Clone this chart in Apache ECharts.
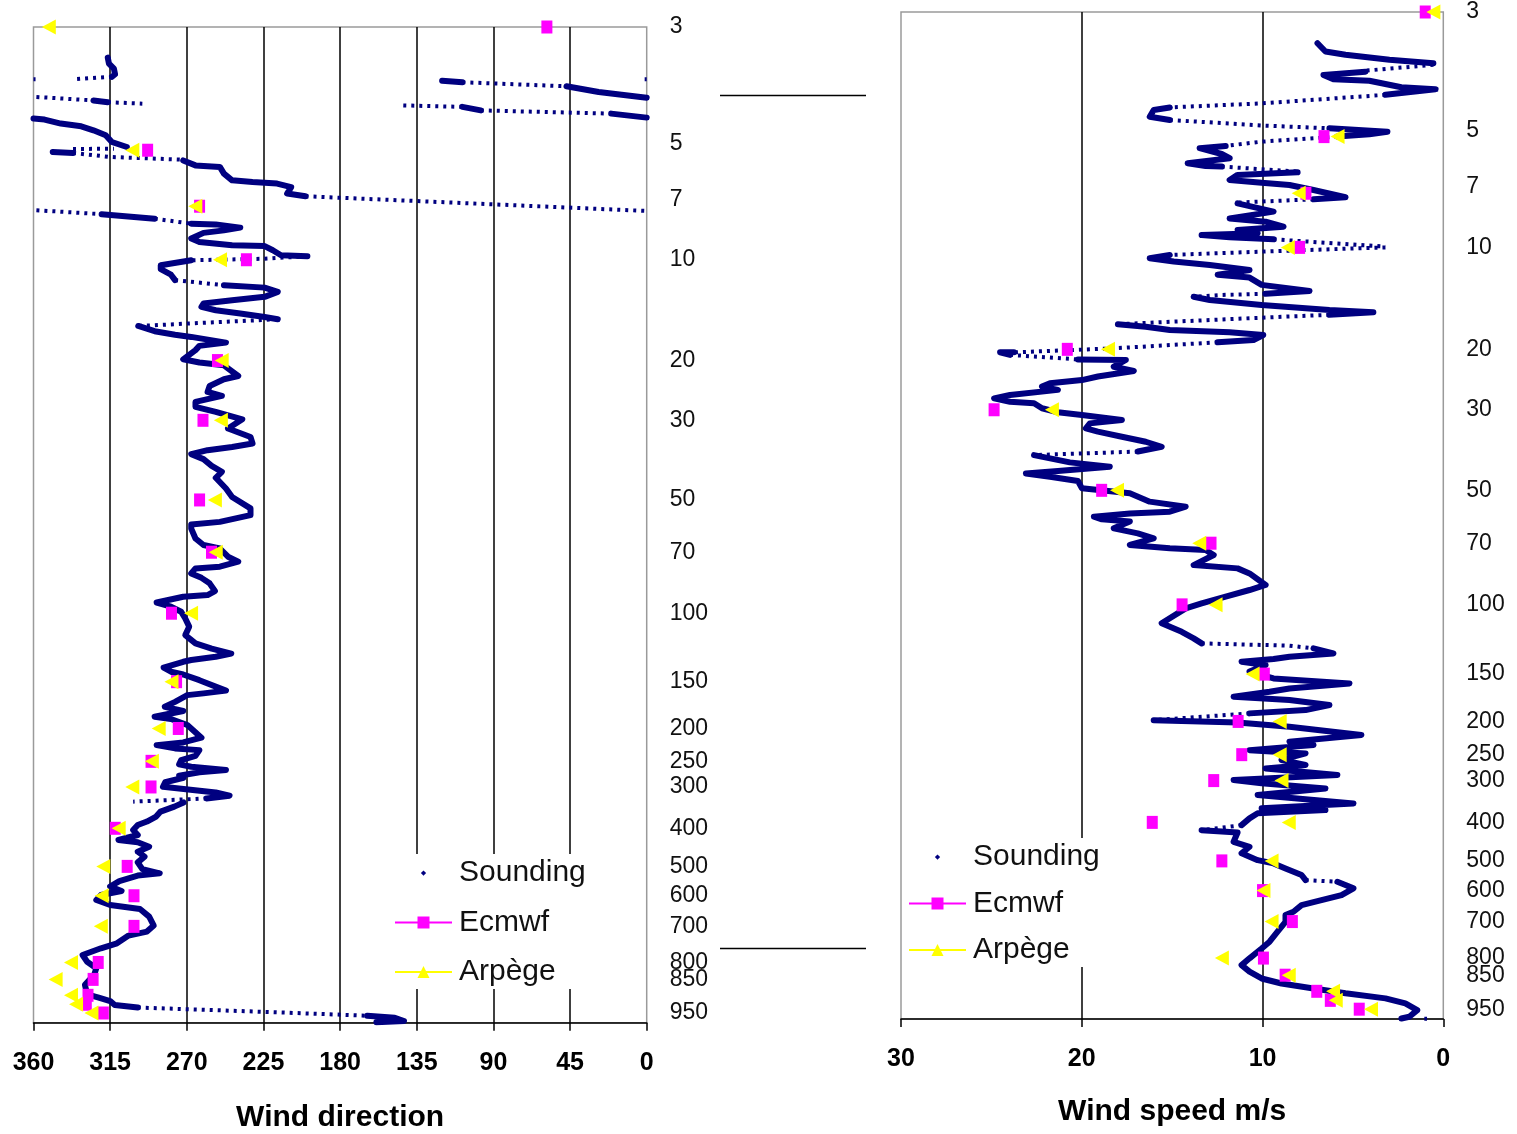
<!DOCTYPE html>
<html>
<head>
<meta charset="utf-8">
<script src="https://cdn.jsdelivr.net/npm/echarts@6/dist/echarts.min.js"></script>
<style>
  html, body { margin: 0; padding: 0; background: #fff; }
  #chart { width: 1517px; height: 1134px; }
</style>
</head>
<body>
<div id="chart"></div>
<script>
// pressure labels (hPa) and the height (km) they sit at on the axis
const tickPressure = [3, 5, 7, 10, 20, 30, 50, 70, 100, 150, 200, 250, 300, 400, 500, 600, 700, 800, 850, 950];
const tickHeight = [40, 35.3, 33.05, 30.65, 26.6, 24.2, 21, 18.9, 16.45, 13.7, 11.82, 10.5, 9.47, 7.81, 6.28, 5.1, 3.87, 2.42, 1.74, 0.39];

// model levels
const modelPressure = [3, 5, 7, 10, 20, 30, 50, 70, 100, 150, 200, 250, 300, 400, 500, 600, 700, 800, 850, 900, 925, 950];
const modelHeight = [40, 35.05, 32.8, 30.65, 26.6, 24.2, 21, 18.9, 16.45, 13.7, 11.82, 10.5, 9.47, 7.81, 6.28, 5.1, 3.87, 2.42, 1.74, 1.1, 0.74, 0.39];

const ecmwfDir = [58.6, 293, 262.5, 235, 252, 260.5, 262.5, 255.5, 279, 276, 275, 291, 291, 312, 305, 301, 301, 322, 325, 328, 329, 319];
const arpegeDir = [351, 302, 265, 250.5, 249.5, 250, 253.5, 253, 267.5, 279, 286.5, 290.5, 302, 310, 319, 320, 320.5, 338, 347, 338, 335, 326];
const ecmwfSpeed = [1.0, 6.6, 7.6, 7.95, 20.8, 24.85, 18.9, 12.85, 14.45, 9.9, 11.35, 11.15, 12.7, 16.1, 12.25, 10.0, 8.35, 9.95, 8.75, 7.0, 6.25, 4.65];
const arpegeSpeed = [0.55, 5.85, 8.0, 8.6, 18.55, 21.65, 18.05, 13.5, 12.6, 10.55, 9.05, 9.05, 8.95, 8.55, 9.5, 9.95, 9.5, 12.25, 8.55, 6.1, 5.95, 4.0];

// sounding, [direction, height km]; dense runs and sparse (dotted) runs
const soundingDirSolid = [
  [316.4,38.77],[315.7,38.53],[312.8,38.33],[312.1,38.1],[313.9,38.0], null,
  [120.1,37.84],[108.2,37.78], null,
  [47.1,37.62],[28.2,37.39],[0,37.16], null,
  [324.8,37.05],[316.4,36.98], null,
  [108.2,36.79],[97.4,36.65], null,
  [20.8,36.52],[0,36.36], null,
  [360,36.32],[353.5,36.28],[344,36.12],[332,36.01],[324.8,35.85],[317.6,35.65],[314,35.38],[305.2,35.18], null,
  [348.7,34.98],[336.8,34.94], null,
  [272.1,34.64],[264.9,34.44],[250.6,34.38],[248.2,34.11],[243.4,33.84],[231.4,33.77],[217,33.71],[208.7,33.57],[211.1,33.31],[200.3,33.2], null,
  [320,32.48],[288.9,32.3], null,
  [267.4,32.1],[253,32.07],[238.6,31.94],[248.2,31.83],[260.2,31.73],[267.4,31.5],[262.6,31.36],[243.4,31.23],[224.3,31.2],[219.5,31.03],[214.7,30.83],[199.2,30.79], null,
  [267.4,30.63],[285.3,30.43],[285.3,30.27],[279.3,30.05],[276.9,29.83], null,
  [248.2,29.63],[224.3,29.53],[216.6,29.36],[224.3,29.16],[243.4,29.02],[260.2,28.89],[261.4,28.76],[253,28.62],[238.6,28.49],[224.3,28.35],[216.6,28.26], null,
  [298.5,27.99],[288.9,27.78],[276.9,27.64],[267.4,27.55],[247,27.32],[262.6,27.19],[264.9,27.02],[272.1,26.65],[262.6,26.52],[248.2,26.41],
  [239.8,25.98],[248.2,25.85],[256.6,25.58],[257.8,25.34],[249.4,25.18],[264.9,24.94],[264.9,24.74],[253,24.54],[237.4,24.24],[245.8,23.87],
  [232.6,23.53],[231.4,23.27],[243.4,23.13],[257.8,23.0],[267.4,22.84],[260.2,22.64],[255.4,22.37],[249.4,22.13],[253,21.89],[247,21.46],
  [243.4,21.12],[232.6,20.66],[232.6,20.39],[250.6,20.12],[267.4,20.01],[267.4,19.85],[264.9,19.45],[260.2,19.19],[250.6,19.05],[245.8,18.72],
  [239.8,18.52],[250.6,18.32],[264.9,18.25],[267.4,18.05],[261.4,17.87],[256.6,17.65],[253.5,17.34],[257.8,17.18],[272.1,17.11],[287.7,16.88],
  [279.3,16.71],[273.3,16.51],[270.9,16.24],[268.6,15.91],[270.9,15.57],[264.9,15.24],[255.4,15.03],[243.9,14.83],[253,14.7],[267.4,14.57],
  [272.1,14.5],[283.6,14.26],[279.3,14.1],[272.1,13.99],[262.6,13.76],[247,13.34],[260.2,13.23],[269.7,13.16],[276.9,12.89],[282.9,12.69],
  [272.1,12.52],[288.9,12.29],[279.3,12.2],[269.7,11.96],[261.4,11.45],[272.1,11.26],[287.7,11.15],[276.9,11.02],[262.6,10.95],[264.9,10.72],
  [273.3,10.55],[274.5,10.38],[267.4,10.28],[247,10.15],[262.6,10.06],[274.5,9.92],[271.9,9.84],[282.7,9.66],[284,9.48],[266.5,9.35],
  [253,9.25],[244.9,9.12],[258.4,9.01], null,
  [271.9,8.85],[277.3,8.68],[285.4,8.48],[288,8.28],[293.4,8.08],[298.8,7.94],[301.5,7.74],[298.8,7.54],[310.1,7.34],[298.8,7.25],
  [292.1,7.07],[298.8,6.87],[294.8,6.67],[298.8,6.44],[296.1,6.17],[285.9,6.0],[298.8,5.91],[309.6,5.69],[315,5.47],[308.3,5.29],
  [320.4,5.13],[323.1,4.93],[315,4.73],[297.5,4.57],[292.1,4.26],[289.4,3.9],[293.4,3.66],[304.2,3.5],[311,3.19],[320.4,2.99],
  [331.2,2.72],[328.5,2.45],[323.1,2.19],[324.4,1.92],[329.8,1.52],[328.5,1.14],[321.7,1.01],[315,0.87],[312.3,0.71],[298.8,0.61], null,
  [164.1,0.28],[147.9,0.2],[142.5,0.07],[158.7,0.02]
];
const soundingDirDotted = [
  [313.9,38.0],[336.8,37.9], null,
  [358.8,37.9],[360,37.9], null,
  [0,37.9],[1.2,37.9], null,
  [108.2,37.78],[47.1,37.62], null,
  [358.3,37.19],[324.8,37.05], null,
  [316.4,36.98],[296.1,36.92], null,
  [142.9,36.85],[108.2,36.79], null,
  [97.4,36.65],[20.8,36.52], null,
  [336.8,35.1],[312.8,35.11], null,
  [336.8,34.94],[315.2,34.78],[272.1,34.67], null,
  [200.3,33.2],[0,32.61], null,
  [358.3,32.64],[320,32.48], null,
  [288.9,32.3],[267.4,32.1], null,
  [199.2,30.79],[225.5,30.69],[267.4,30.63], null,
  [276.9,29.83],[248.2,29.63], null,
  [216.6,28.26],[298.5,27.99], null,
  [258.4,9.01],[301.5,8.88], null,
  [298.8,0.61],[218,0.42],[164.1,0.28]
];

// sounding, [speed m/s, height km]
const soundingSpeedSolid = [
  [6.96,38.76],[6.52,38.43],[5.41,38.3],[2.98,38.1],[0.55,37.96], null,
  [4.31,37.63],[6.63,37.5],[6.08,37.33],[4.09,37.27],[2.32,37.01],[0.44,36.93],[3.2,36.71], null,
  [15.13,36.21],[16.02,36.11],[16.24,35.84],[15.13,35.71], null,
  [6.3,35.38],[3.09,35.24],[4.09,35.14],[5.86,35.05], null,
  [12.04,34.68],[13.48,34.59],[12.26,34.36],[11.82,34.19],[14.14,33.99],[13.15,33.88],[12.26,33.86], null,
  [8.06,33.63],[11.38,33.53],[11.82,33.33],[10.05,33.22],[8.51,33.13],[7.18,32.93],[5.41,32.64],[7.18,32.56], null,
  [11.38,32.4],[9.39,32.07],[11.82,31.8],[9.83,31.67],[8.84,31.47],[11.38,31.34],[10.27,31.21],[13.37,31.14],[11.82,31.05],[9.39,30.97], null,
  [15.13,30.35],[16.24,30.22],[14.91,30.09],[12.92,29.95],[10.72,29.75],[12.48,29.56],[10.72,29.45],[10.05,29.16],[7.4,28.92],[9.83,28.81], null,
  [13.81,28.69],[12.92,28.56],[10.05,28.36],[6.3,28.16],[3.87,28.07],[6.3,27.97], null,
  [18.0,27.6],[16.46,27.5],[15.13,27.37],[11.82,27.28],[9.96,27.17],[10.5,26.97],[12.48,26.88], null,
  [23.75,26.48],[24.52,26.48],[23.97,26.38], null,
  [20.21,26.2],[17.56,26.18],[18.23,25.91],[17.12,25.74],[19.11,25.52],[19.99,25.38],[21.76,25.25],[22.2,25.12],[21.32,24.99],[23.97,24.79],
  [24.85,24.65],[23.97,24.52],[22.64,24.46],[22.2,24.26],[21.32,24.1],[19.99,23.99],[17.78,23.79],[19.55,23.66],[19.77,23.46],[19.11,23.33],
  [17.78,23.13],[16.46,22.93],[15.58,22.73],[16.9,22.54], null,
  [22.64,22.4],[20.66,22.11],[18.45,21.94],[21.32,21.77],[23.09,21.67],[21.76,21.54],[20.21,21.37],[19.99,21.08],[17.34,20.88],[16.24,20.55],
  [14.25,20.35],[15.13,20.15],[17.34,20.08],[19.33,19.95],[18.89,19.85],[17.34,19.76],[18.23,19.49],[16.9,19.29],[16.02,19.09],[17.34,18.83],
  [15.13,18.7],[13.15,18.63],[12.7,18.43],[13.81,18.03],[11.38,17.9],[10.72,17.7],[9.83,17.24],[10.72,17.04],[12.04,16.78],[13.37,16.51],
  [14.25,16.31],[15.58,15.72],[14.47,15.38],[13.81,15.12],[13.37,14.92], null,
  [7.18,14.72],[6.08,14.52],[8.51,14.39],[9.39,14.3],[11.16,14.19],[9.83,14.06],[10.72,13.8],[9.39,13.53],[5.19,13.33],[8.51,13.13],
  [9.61,13.0],[11.6,12.8],[8.51,12.67],[6.3,12.47],[7.62,12.27],[10.72,12.14], null,
  [16.02,11.87],[11.38,11.78],[8.51,11.61],[4.53,11.28],[8.51,11.01],[7.18,10.88],[10.72,10.68],[7.62,10.55],[8.95,10.29],[7.62,10.09],
  [9.83,9.95],[5.86,9.69],[11.6,9.49],[10.05,9.36],[6.52,9.16],[10.27,8.9],[4.97,8.56],[10.05,8.37],[6.52,8.3],[10.27,8.17],
  [10.72,7.97],[11.16,7.7], null,
  [13.37,7.5],[11.38,7.41],[11.6,7.04],[10.72,6.84],[11.16,6.58],[10.27,6.31],[9.39,6.18],[8.73,5.98],[7.84,5.72],[7.62,5.52], null,
  [5.86,5.45],[4.97,5.19],[5.63,4.92],[6.74,4.72],[7.84,4.52],[8.29,4.26],[8.73,4.13],[8.73,3.86],[9.17,3.47],[9.61,3.07],
  [10.05,2.8],[10.72,2.41],[11.16,2.14],[10.72,1.88],[10.05,1.61],[8.95,1.41],[7.18,1.21],[5.41,1.02],[3.2,0.82],[2.1,0.62],
  [1.44,0.35],[1.88,0.09],[2.32,0.02]
];
const soundingSpeedDotted = [
  [0.55,37.9],[4.31,37.67], null,
  [0.44,36.93],[0,36.9], null,
  [3.2,36.71],[10.05,36.37],[15.13,36.21], null,
  [15.13,35.71],[9.96,35.49],[6.3,35.38], null,
  [5.86,35.05],[10.05,34.85],[12.04,34.68], null,
  [12.26,33.86],[8.06,33.66], null,
  [7.18,32.56],[11.38,32.43], null,
  [9.39,30.97],[3.2,30.68], null,
  [3.2,30.65],[8.51,30.52],[15.13,30.35], null,
  [9.83,28.81],[12.26,28.76],[13.81,28.69], null,
  [6.3,27.97],[8.73,27.9],[18.0,27.6], null,
  [12.48,26.88],[15.13,26.77],[18.23,26.64],[23.75,26.48], null,
  [23.97,26.38],[20.21,26.2], null,
  [16.9,22.54],[22.64,22.4], null,
  [13.37,14.92],[8.51,14.83],[7.18,14.72], null,
  [10.72,12.14],[16.02,11.87], null,
  [11.16,7.7],[13.37,7.5], null,
  [7.62,5.52],[5.86,5.45], null,
  [1.05,0.01],[0.9,0.01]
];

const FONT = '"Liberation Sans", Arial, sans-serif';
const NAVY = '#000080';
const MAGENTA = '#FF00FF';
const YELLOW = '#FFFF00';
const soundingIcon = 'path://M0,0M20,20M10,6.5L13.5,10L10,13.5L6.5,10Z';

function pressureLabel(v) {
  for (let i = 0; i < tickHeight.length; i++) {
    if (Math.abs(tickHeight[i] - v) < 1e-6) return String(tickPressure[i]);
  }
  return '';
}

function modelData(values) {
  return modelPressure.map((p, i) => [values[i], modelHeight[i]]);
}

function makeXAxis(gridIndex, max, interval, name, nameGap) {
  return {
    gridIndex: gridIndex, type: 'value', min: 0, max: max, interval: interval, inverse: true,
    name: name, nameLocation: 'middle', nameGap: nameGap,
    nameTextStyle: { fontFamily: FONT, fontSize: 30, fontWeight: 'bold', color: '#000' },
    axisLine: { show: true, onZero: false, lineStyle: { color: '#000', width: 1.5 } },
    axisTick: { show: true, length: 8, lineStyle: { color: '#000', width: 1.5 } },
    axisLabel: { fontFamily: FONT, fontSize: 25, fontWeight: 'bold', color: '#000', margin: 28 },
    splitLine: { show: true, showMinLine: false, showMaxLine: false, lineStyle: { color: '#000', width: 1.5 } }
  };
}

function makeYAxis(gridIndex) {
  return {
    gridIndex: gridIndex, type: 'value', min: 0, max: 40, position: 'right',
    axisLine: { show: false }, axisTick: { show: false }, splitLine: { show: false },
    axisLabel: {
      customValues: tickHeight, formatter: pressureLabel, showMinLabel: true, showMaxLabel: true,
      fontFamily: FONT, fontSize: 23, color: '#111', margin: 23, align: 'left'
    }
  };
}

function soundingLine(data, idx, dotted) {
  return {
    name: 'Sounding', type: 'line', xAxisIndex: idx, yAxisIndex: idx,
    data: data, symbol: 'none', connectNulls: false, z: 2,
    itemStyle: { color: NAVY },
    lineStyle: dotted
      ? { color: NAVY, width: 4, type: [3, 5], cap: 'butt' }
      : { color: NAVY, width: 6, cap: 'round', join: 'round' }
  };
}

function modelSeries(name, data, idx) {
  const isEcmwf = name === 'Ecmwf';
  return {
    name: name, type: 'line', xAxisIndex: idx, yAxisIndex: idx, data: data,
    color: isEcmwf ? MAGENTA : YELLOW,
    symbol: isEcmwf ? 'rect' : 'triangle',
    symbolSize: isEcmwf ? [11, 13] : [15, 14],
    symbolRotate: isEcmwf ? 0 : 90,
    showSymbol: true,
    itemStyle: { color: isEcmwf ? MAGENTA : YELLOW },
    lineStyle: { color: isEcmwf ? MAGENTA : YELLOW, width: 0 },
    z: isEcmwf ? 3 : 4
  };
}

function makeLegend(left, top, gap) {
  return {
    data: [{ name: 'Sounding', icon: soundingIcon }, 'Ecmwf', 'Arpège'],
    orient: 'vertical', left: left, top: top,
    itemWidth: 57, itemHeight: 15, itemGap: gap,
    padding: [4, 10, 2, 6], backgroundColor: '#fff',
    selectedMode: false, symbolRotate: 0,
    lineStyle: { width: 2 },
    textStyle: { fontFamily: FONT, fontSize: 30, color: '#111', lineHeight: 30, padding: [0, 0, 0, 2] }
  };
}

const chart = echarts.init(document.getElementById('chart'), null, { renderer: 'canvas' });
chart.setOption({
  animation: false,
  backgroundColor: '#fff',
  grid: [
    { left: 33.5, top: 27, width: 613.2, height: 995.7, show: true, borderColor: '#9a9a9a', borderWidth: 1.5, outerBoundsMode: 'none' },
    { left: 901, top: 12, width: 542.3, height: 1007, show: true, borderColor: '#9a9a9a', borderWidth: 1.5, outerBoundsMode: 'none' }
  ],
  xAxis: [
    makeXAxis(0, 360, 45, 'Wind direction', 80),
    makeXAxis(1, 30, 10, 'Wind speed m/s', 78)
  ],
  yAxis: [makeYAxis(0), makeYAxis(1)],
  legend: [
    makeLegend(388, 854, 19.5),
    makeLegend(902, 838, 16.5)
  ],
  series: [
    soundingLine(soundingDirSolid, 0, false),
    soundingLine(soundingDirDotted, 0, true),
    modelSeries('Ecmwf', modelData(ecmwfDir), 0),
    modelSeries('Arpège', modelData(arpegeDir), 0),
    soundingLine(soundingSpeedSolid, 1, false),
    soundingLine(soundingSpeedDotted, 1, true),
    modelSeries('Ecmwf', modelData(ecmwfSpeed), 1),
    modelSeries('Arpège', modelData(arpegeSpeed), 1)
  ],
  graphic: [
    { type: 'line', shape: { x1: 720, y1: 95.5, x2: 866, y2: 95.5 }, style: { stroke: '#000', lineWidth: 1.5 } },
    { type: 'line', shape: { x1: 720, y1: 948.5, x2: 866, y2: 948.5 }, style: { stroke: '#000', lineWidth: 1.5 } }
  ]
});
</script>
</body>
</html>
